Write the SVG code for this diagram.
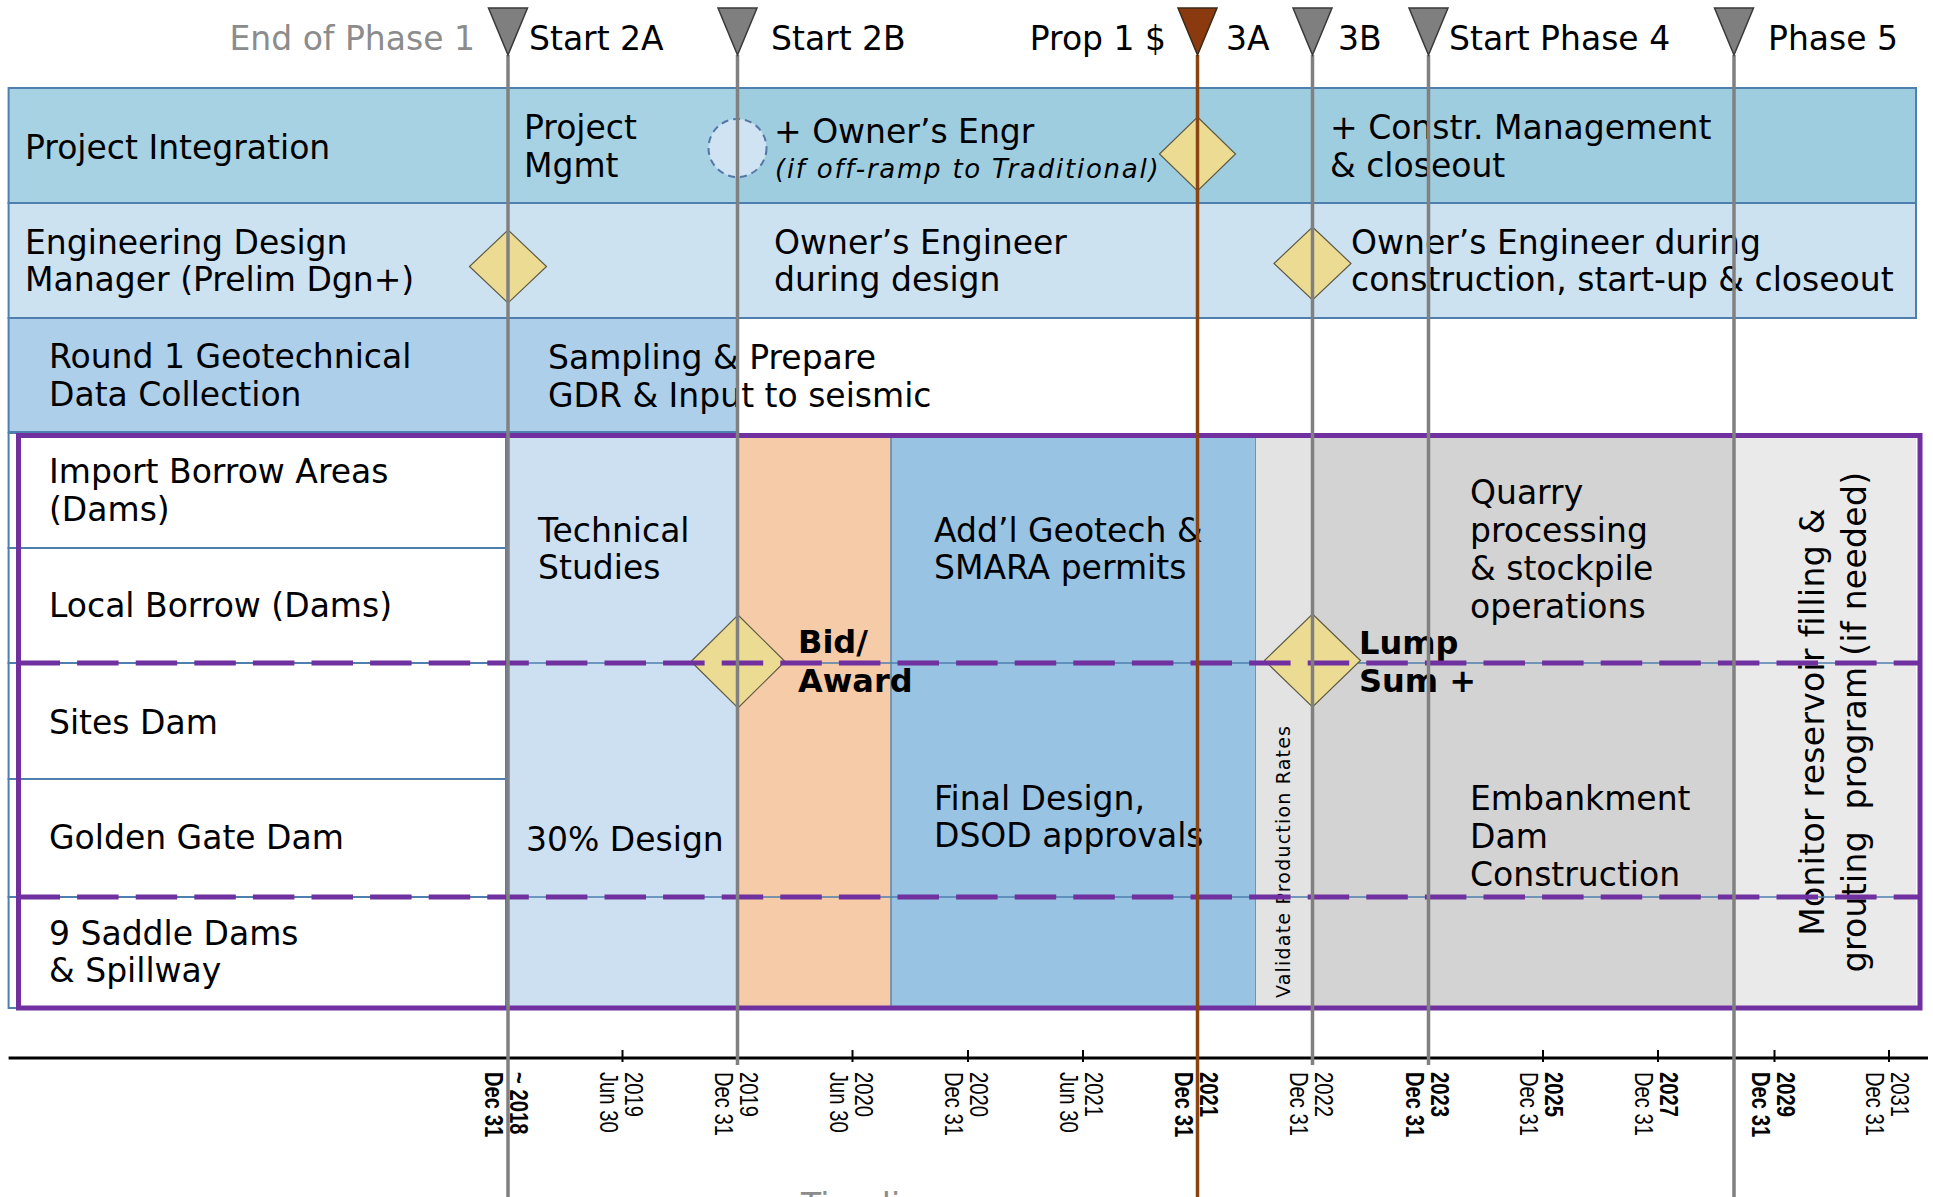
<svg xmlns="http://www.w3.org/2000/svg" width="1933" height="1197" viewBox="0 0 1933 1197">
<defs>
<style>
.t{font-family:"DejaVu Sans",Verdana,sans-serif;font-size:33px;fill:#000}
.g{fill:#8c8c8c}
.bd{font-weight:bold;font-size:32px}
.it{font-style:italic;font-size:26px;letter-spacing:1.75px}
.ax{font-family:"Liberation Sans",Arial,sans-serif;font-size:22px;fill:#000}
.axb{font-weight:bold}
.row{stroke:#4f7fae;stroke-width:2}
.cell{fill:#fff;stroke:#4f7fae;stroke-width:2}
.dia{fill:#ecdb92;stroke:#5e5a45;stroke-width:1.2}
.ms{stroke:#808080;stroke-width:3.5;fill:none}
.msb{stroke:#8b4513;stroke-width:3.5;fill:none}
.tri{fill:#7f7f7f;stroke:#3a3a3a;stroke-width:1.5}
.trib{fill:#8b3a0f;stroke:#3a2a1a;stroke-width:1.5}
.dash{stroke:#7030a0;stroke-width:5;stroke-dasharray:41.5 17.1;fill:none}
.tick{stroke:#000;stroke-width:2}
</style>
</defs>
<rect width="1933" height="1197" fill="#fff"/>

<!-- Upper swim lanes -->
<g id="lane-integration">
<rect x="8.6" y="88" width="728.9" height="115" fill="#a6d2e3" class="row"/>
<rect x="737.5" y="88" width="1178.5" height="115" fill="#9fcde0" class="row"/>
<text class="t" x="25" y="159">Project Integration</text>
<text class="t" x="524" y="139">Project</text>
<text class="t" x="524" y="177">Mgmt</text>
<circle cx="737.5" cy="148" r="29" fill="#cfe3f2" stroke="#5577a5" stroke-width="2" stroke-dasharray="7 5"/>
<text class="t" x="774" y="143">+ Owner’s Engr</text>
<text class="t it" x="775" y="178">(if off-ramp to Traditional)</text>
<text class="t" x="1330" y="139">+ Constr. Management</text>
<text class="t" x="1330" y="177">&amp; closeout</text>
</g>

<g id="lane-engineering">
<rect x="8.6" y="203" width="728.9" height="115" fill="#cde2f1" class="row"/>
<rect x="737.5" y="203" width="1178.5" height="115" fill="#cde2f1" class="row"/>
<text class="t" x="25" y="254">Engineering Design</text>
<text class="t" x="25" y="291">Manager (Prelim Dgn+)</text>
<text class="t" x="774" y="254">Owner’s Engineer</text>
<text class="t" x="774" y="291">during design</text>
<text class="t" x="1351" y="254">Owner’s Engineer during</text>
<text class="t" x="1351" y="291">construction, start-up &amp; closeout</text>
</g>

<g id="lane-geotech">
<rect x="8.6" y="318" width="499.4" height="114" fill="#aecfe9" class="row"/>
<rect x="508" y="318" width="229.5" height="114" fill="#aecfe9" class="row"/>
<text class="t" x="49" y="368">Round 1 Geotechnical</text>
<text class="t" x="49" y="406">Data Collection</text>
<text class="t" x="548" y="369">Sampling &amp; Prepare</text>
<text class="t" x="548" y="407">GDR &amp; Input to seismic</text>
</g>

<!-- Dam work block -->
<g id="dam-labels">
<rect class="cell" x="8.6" y="433" width="497.4" height="115"/>
<rect class="cell" x="8.6" y="548" width="497.4" height="115"/>
<rect class="cell" x="8.6" y="663" width="497.4" height="116"/>
<rect class="cell" x="8.6" y="779" width="497.4" height="118"/>
<rect class="cell" x="8.6" y="897" width="497.4" height="111"/>
<text class="t" x="49" y="483">Import Borrow Areas</text>
<text class="t" x="49" y="521">(Dams)</text>
<text class="t" x="49" y="617">Local Borrow (Dams)</text>
<text class="t" x="49" y="734">Sites Dam</text>
<text class="t" x="49" y="849">Golden Gate Dam</text>
<text class="t" x="49" y="945">9 Saddle Dams</text>
<text class="t" x="49" y="982">&amp; Spillway</text>
</g>

<g id="phase-2a-design">
<rect x="508" y="435" width="229.5" height="573" fill="#cce0f1"/>
<text class="t" x="538" y="542">Technical</text>
<text class="t" x="538" y="579">Studies</text>
<text class="t" x="526" y="851">30% Design</text>
</g>

<g id="phase-2b-procurement">
<rect x="737.5" y="435" width="153.5" height="573" fill="#f6cba7"/>
</g>

<g id="phase-2b-final-design">
<rect x="891" y="435" width="365" height="573" fill="#98c3e3" stroke="#5b86b0" stroke-width="1.5"/>
<text class="t" x="934" y="542">Add’l Geotech &amp;</text>
<text class="t" x="934" y="579">SMARA permits</text>
<text class="t" x="934" y="810">Final Design,</text>
<text class="t" x="934" y="847">DSOD approvals</text>
</g>

<g id="phase-3b-validate">
<rect x="1256" y="435" width="56.5" height="573" fill="#e3e3e3"/>
<text font-family="DejaVu Sans, Verdana, sans-serif" font-size="19" letter-spacing="1.2" transform="translate(1290,998) rotate(-90)">Validate Production Rates</text>
</g>

<g id="phase-4-construction">
<rect x="1312.5" y="435" width="421.5" height="573" fill="#d3d3d3"/>
<text class="t" x="1470" y="504">Quarry</text>
<text class="t" x="1470" y="542">processing</text>
<text class="t" x="1470" y="580">&amp; stockpile</text>
<text class="t" x="1470" y="618">operations</text>
<text class="t" x="1470" y="810">Embankment</text>
<text class="t" x="1470" y="848">Dam</text>
<text class="t" x="1470" y="886">Construction</text>
</g>

<g id="phase-5-monitor">
<rect x="1734" y="435" width="182" height="573" fill="#eaeaea"/>
<text class="t" text-anchor="middle" letter-spacing="0.3" transform="translate(1824,722) rotate(-90)">Monitor reservoir filling &amp;</text>
<text class="t" text-anchor="middle" letter-spacing="0.3" transform="translate(1866,722) rotate(-90)" xml:space="preserve">grouting  program (if needed)</text>
</g>

<!-- row dividers through the work columns -->
<g id="row-dividers">
<line x1="8.6" y1="663" x2="1916" y2="663" stroke="#4f7fae" stroke-width="1.5"/>
<line x1="8.6" y1="897" x2="1916" y2="897" stroke="#4f7fae" stroke-width="1.5"/>
</g>

<!-- decision diamonds -->
<g id="gate-2a">
<polygon class="dia" points="508,230 546.5,266.5 508,303 469.5,266.5"/>
</g>
<g id="gate-3a">
<polygon class="dia" points="1197.5,117 1235.5,154 1197.5,191 1159.5,154"/>
</g>
<g id="gate-3b">
<polygon class="dia" points="1312.5,227 1351,263.5 1312.5,300 1274,263.5"/>
</g>
<g id="bid-award">
<polygon class="dia" points="738,615 785,661.5 738,708 691,661.5"/>
<text class="t bd" x="798" y="653">Bid/</text>
<text class="t bd" x="798" y="692">Award</text>
</g>
<g id="lump-sum">
<polygon class="dia" points="1312.5,614 1360.5,660.5 1312.5,707 1264.5,660.5"/>
<text class="t bd" x="1359" y="654">Lump</text>
<text class="t bd" x="1359" y="692">Sum +</text>
</g>

<!-- dam group outline -->
<g id="dam-group">
<line class="dash" x1="18.5" y1="663" x2="1920" y2="663"/>
<line class="dash" x1="18.5" y1="897" x2="1920" y2="897"/>
<rect x="18.5" y="435.5" width="1901.5" height="572.5" fill="none" stroke="#7030a0" stroke-width="5"/>
</g>

<!-- time axis -->
<g id="time-axis">
<line x1="8.6" y1="1058" x2="1928" y2="1058" stroke="#000" stroke-width="3"/>
<g class="tick">
<line x1="508" y1="1050" x2="508" y2="1062"/>
<line x1="622.5" y1="1050" x2="622.5" y2="1062"/>
<line x1="737.5" y1="1050" x2="737.5" y2="1062"/>
<line x1="852.5" y1="1050" x2="852.5" y2="1062"/>
<line x1="968" y1="1050" x2="968" y2="1062"/>
<line x1="1083" y1="1050" x2="1083" y2="1062"/>
<line x1="1197.5" y1="1050" x2="1197.5" y2="1062"/>
<line x1="1312.5" y1="1050" x2="1312.5" y2="1062"/>
<line x1="1428.5" y1="1050" x2="1428.5" y2="1062"/>
<line x1="1543" y1="1050" x2="1543" y2="1062"/>
<line x1="1658" y1="1050" x2="1658" y2="1062"/>
<line x1="1774.5" y1="1050" x2="1774.5" y2="1062"/>
<line x1="1889" y1="1050" x2="1889" y2="1062"/>
</g>
<text class="ax axb" transform="translate(510,1072) rotate(90) scale(0.92,1.18)">~ 2018</text>
<text class="ax axb" transform="translate(485,1072) rotate(90) scale(0.92,1.18)">Dec 31</text>
<text class="ax" transform="translate(625,1072) rotate(90) scale(0.92,1.18)">2019</text>
<text class="ax" transform="translate(600,1072) rotate(90) scale(0.92,1.18)">Jun 30</text>
<text class="ax" transform="translate(740,1072) rotate(90) scale(0.92,1.18)">2019</text>
<text class="ax" transform="translate(715,1072) rotate(90) scale(0.92,1.18)">Dec 31</text>
<text class="ax" transform="translate(855,1072) rotate(90) scale(0.92,1.18)">2020</text>
<text class="ax" transform="translate(830,1072) rotate(90) scale(0.92,1.18)">Jun 30</text>
<text class="ax" transform="translate(970,1072) rotate(90) scale(0.92,1.18)">2020</text>
<text class="ax" transform="translate(945,1072) rotate(90) scale(0.92,1.18)">Dec 31</text>
<text class="ax" transform="translate(1085,1072) rotate(90) scale(0.92,1.18)">2021</text>
<text class="ax" transform="translate(1060,1072) rotate(90) scale(0.92,1.18)">Jun 30</text>
<text class="ax axb" transform="translate(1200,1072) rotate(90) scale(0.92,1.18)">2021</text>
<text class="ax axb" transform="translate(1175,1072) rotate(90) scale(0.92,1.18)">Dec 31</text>
<text class="ax" transform="translate(1315,1072) rotate(90) scale(0.92,1.18)">2022</text>
<text class="ax" transform="translate(1290,1072) rotate(90) scale(0.92,1.18)">Dec 31</text>
<text class="ax axb" transform="translate(1431,1072) rotate(90) scale(0.92,1.18)">2023</text>
<text class="ax axb" transform="translate(1406,1072) rotate(90) scale(0.92,1.18)">Dec 31</text>
<text class="ax axb" transform="translate(1545,1072) rotate(90) scale(0.92,1.18)">2025</text>
<text class="ax" transform="translate(1520,1072) rotate(90) scale(0.92,1.18)">Dec 31</text>
<text class="ax axb" transform="translate(1660,1072) rotate(90) scale(0.92,1.18)">2027</text>
<text class="ax" transform="translate(1635,1072) rotate(90) scale(0.92,1.18)">Dec 31</text>
<text class="ax axb" transform="translate(1777,1072) rotate(90) scale(0.92,1.18)">2029</text>
<text class="ax axb" transform="translate(1752,1072) rotate(90) scale(0.92,1.18)">Dec 31</text>
<text class="ax" transform="translate(1891,1072) rotate(90) scale(0.92,1.18)">2031</text>
<text class="ax" transform="translate(1866,1072) rotate(90) scale(0.92,1.18)">Dec 31</text>
<text class="t g" x="801" y="1217">Timeline</text>
</g>

<!-- milestone markers and their guide lines -->
<g id="connectors">
<line class="ms" x1="508" y1="55" x2="508" y2="1197"/>
<line class="ms" x1="737.5" y1="55" x2="737.5" y2="1065"/>
<line class="msb" x1="1197.5" y1="55" x2="1197.5" y2="1197"/>
<line class="ms" x1="1312.5" y1="55" x2="1312.5" y2="1065"/>
<line class="ms" x1="1428.5" y1="55" x2="1428.5" y2="1065"/>
<line class="ms" x1="1734" y1="55" x2="1734" y2="1197"/>
</g>

<g id="milestone-2a">
<polygon class="tri" points="488.5,8 527.5,8 508,55"/>
<text class="t g" x="475" y="50" text-anchor="end">End of Phase 1</text>
<text class="t" x="529" y="50">Start 2A</text>
</g>
<g id="milestone-2b">
<polygon class="tri" points="718,8 757,8 737.5,55"/>
<text class="t" x="771" y="50">Start 2B</text>
</g>
<g id="milestone-3a">
<polygon class="trib" points="1178,8 1217,8 1197.5,55"/>
<text class="t" x="1166" y="50" text-anchor="end">Prop 1 $</text>
<text class="t" x="1226" y="50">3A</text>
</g>
<g id="milestone-3b">
<polygon class="tri" points="1293,8 1332,8 1312.5,55"/>
<text class="t" x="1338" y="50">3B</text>
</g>
<g id="milestone-4">
<polygon class="tri" points="1409,8 1448,8 1428.5,55"/>
<text class="t" x="1449" y="50">Start Phase 4</text>
</g>
<g id="milestone-5">
<polygon class="tri" points="1714.5,8 1753.5,8 1734,55"/>
<text class="t" x="1768" y="50">Phase 5</text>
</g>
</svg>
